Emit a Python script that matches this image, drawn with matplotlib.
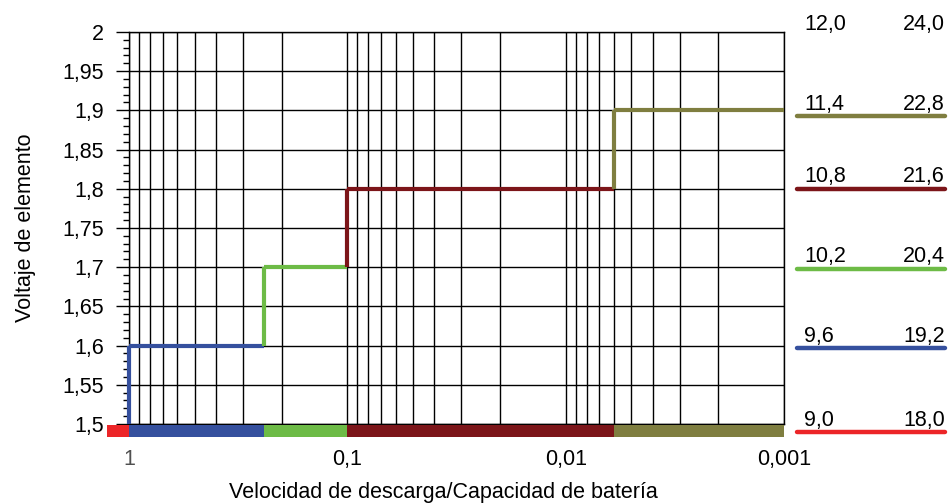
import matplotlib

matplotlib.use("Agg")
import matplotlib.pyplot as plt
import matplotlib.transforms as mtransforms
from matplotlib.ticker import FixedLocator, FixedFormatter, NullFormatter

plt.rcParams["font.family"] = ["Liberation Sans", "DejaVu Sans"]

# --- data ---------------------------------------------------------------------
# step boundaries on the (reversed, log) discharge-rate axis
step_x = [1.26, 1.0, 0.24, 0.1, 0.006, 0.001]
cell_volts = [1.5, 1.6, 1.7, 1.8, 1.9]
seg_colors = ["#ec2528", "#35509e", "#6dbb46", "#7c1519", "#7f7e40"]

x_ticks = [1, 0.1, 0.01, 0.001]
x_tick_labels = ["1", "0,1", "0,01", "0,001"]
y_ticks = [1.5, 1.55, 1.6, 1.65, 1.7, 1.75, 1.8, 1.85, 1.9, 1.95, 2.0]
y_tick_labels = ["1,5", "1,55", "1,6", "1,65", "1,7", "1,75", "1,8",
                 "1,85", "1,9", "1,95", "2"]

# right-hand key: 6-cell and 12-cell battery voltages per level
key_6 = ["9,0", "9,6", "10,2", "10,8", "11,4", "12,0"]
key_12 = ["18,0", "19,2", "20,4", "21,6", "22,8", "24,0"]
key_colors = seg_colors + [None]
key_line_y = [1.490, 1.597, 1.698, 1.800, 1.893, None]
key_text_y = [1.498, 1.605, 1.706, 1.808, 1.901, 2.003]

# --- figure -------------------------------------------------------------------
fig = plt.figure(figsize=(9.52, 5.04), dpi=100)
ax = fig.add_axes([0.1355, 0.1587, 0.688, 0.778])

ax.set_xscale("log")
ax.set_xlim(1, 0.001)
ax.set_ylim(1.5, 2.0)

minor_x = [m * 10.0 ** e for e in (-3, -2, -1) for m in range(2, 10)]
ax.xaxis.set_major_locator(FixedLocator(x_ticks))
ax.xaxis.set_major_formatter(FixedFormatter(x_tick_labels))
ax.xaxis.set_minor_locator(FixedLocator(minor_x))
ax.xaxis.set_minor_formatter(NullFormatter())
ax.yaxis.set_major_locator(FixedLocator(y_ticks))
ax.yaxis.set_major_formatter(FixedFormatter(y_tick_labels))
ax.yaxis.set_minor_locator(FixedLocator([1.5 + 0.01 * i for i in range(51)]))

ax.grid(True, which="both", axis="x", color="black", lw=1.0)
ax.grid(True, which="major", axis="y", color="black", lw=1.0)
ax.set_axisbelow(True)
for sp in ax.spines.values():
    sp.set_color("black")
    sp.set_linewidth(1.0)

ax.tick_params(axis="x", which="both", length=0, pad=18, labelsize=15.5)
ax.tick_params(axis="y", which="major", direction="out", length=9.5,
               width=1.0, labelsize=15.5, pad=8.5)
ax.tick_params(axis="y", which="minor", direction="out", length=4.5, width=1.0)
ax.get_xticklabels()[0].set_color("#505050")

# step curve
for i in range(1, len(cell_volts)):
    c = seg_colors[i]
    ax.plot([step_x[i], step_x[i]], [cell_volts[i - 1], cell_volts[i]],
            color=c, lw=3.0, solid_capstyle="butt", zorder=3, clip_on=False)
    ax.plot([step_x[i], step_x[i + 1]], [cell_volts[i], cell_volts[i]],
            color=c, lw=3.0, solid_capstyle="butt", zorder=3, clip_on=False)

# coloured band below the axis
for i, c in enumerate(seg_colors):
    ax.fill_between([step_x[i], step_x[i + 1]], 1.483, 1.4985, color=c, lw=0,
                    clip_on=False, zorder=4)

# right-hand key
tr = mtransforms.blended_transform_factory(ax.transAxes, ax.transData)
for ty, a, b, c, ly in zip(key_text_y, key_6, key_12, key_colors, key_line_y):
    ax.text(1.031, ty, a, transform=tr, fontsize=15.5, ha="left",
            va="baseline")
    ax.text(1.246, ty, b, transform=tr, fontsize=15.5, ha="right",
            va="baseline")
    if c is not None:
        ax.plot([1.02, 1.246], [ly, ly], transform=tr, color=c, lw=3.2,
                solid_capstyle="round", clip_on=False)

fig.text(0.466, 0.023, "Velocidad de descarga/Capacidad de batería",
         fontsize=15.5, ha="center", va="center")
fig.text(0.027, 0.548, "Voltaje de elemento", fontsize=15.5, rotation=90,
         ha="center", va="center")

fig.savefig("out.png", dpi=100)
